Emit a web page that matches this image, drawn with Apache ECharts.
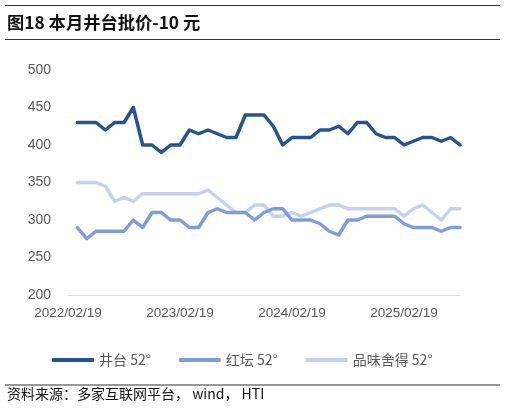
<!DOCTYPE html>
<html>
<head>
<meta charset="utf-8">
<script src="https://cdn.jsdelivr.net/npm/echarts@6/dist/echarts.min.js"></script>
<style>
html,body{margin:0;padding:0;background:#fff;}
#chart{width:506px;height:408px;}
</style>
</head>
<body>
<div id="chart"></div>
<script>
var dates = [
  '2022/02/19','2022/03/19','2022/04/19','2022/05/19','2022/06/19','2022/07/19','2022/08/19','2022/09/19','2022/10/19','2022/11/19','2022/12/19','2023/01/19',
  '2023/02/19','2023/03/19','2023/04/19','2023/05/19','2023/06/19','2023/07/19','2023/08/19','2023/09/19','2023/10/19','2023/11/19','2023/12/19','2024/01/19',
  '2024/02/19','2024/03/19','2024/04/19','2024/05/19','2024/06/19','2024/07/19','2024/08/19','2024/09/19','2024/10/19','2024/11/19','2024/12/19','2025/01/19',
  '2025/02/19','2025/03/19','2025/04/19','2025/05/19','2025/06/19','2025/07/19','2025/08/19'
];
var seriesNames = ['井台 52°','红坛 52°','品味舍得 52°'];
var jingtai = [430,430,430,420,430,430,450,400,400,390,400,400,420,415,420,415,410,410,440,440,440,425,400,410,410,410,420,420,425,415,430,430,415,410,410,400,405,410,410,405,410,400];
var hongtan = [290,275,285,285,285,285,300,290,310,310,300,300,290,290,310,315,310,310,310,300,310,315,315,300,300,300,295,285,280,300,300,305,305,305,305,295,290,290,290,285,290,290];
var pinwei = [350,350,350,345,325,330,325,335,335,335,335,335,335,335,340,330,320,310,310,320,320,305,305,310,305,310,315,320,320,315,315,315,315,315,315,305,315,320,310,300,315,315];
var yTicks = {min:200, max:500, step:50};
var colors = ['#27548E','#7F9ED6','#C4D3EC'];

var pointDates = dates.slice(1);
function pairs(vals){ return vals.map(function(v,i){ return [pointDates[i], v]; }); }
var valueSets = [jingtai, hongtan, pinwei];

var chart = echarts.init(document.getElementById('chart'));
chart.setOption({
  animation:false,
  backgroundColor:'#fff',
  grid:{left:68, right:46, top:70, bottom:113, containLabel:false},
  xAxis:{
    type:'category', data:dates, boundaryGap:false,
    axisLine:{show:true, lineStyle:{color:'#D9D9D9', width:1}},
    axisTick:{show:false},
    axisLabel:{interval:11, color:'#595959', fontSize:13.5, margin:11, fontFamily:'Liberation Sans, Arial, sans-serif'},
    splitLine:{show:false}
  },
  yAxis:{
    type:'value', min:yTicks.min, max:yTicks.max, interval:yTicks.step,
    axisLine:{show:false}, axisTick:{show:false}, splitLine:{show:false},
    axisLabel:{color:'#595959', fontSize:14, margin:17, fontFamily:'Liberation Sans, Arial, sans-serif'}
  },
  legend:{
    left:47, top:348, itemWidth:42, itemHeight:4, itemGap:28, icon:'roundRect',
    textStyle:{color:'#595959', fontSize:14, fontFamily:'Noto Sans CJK SC, sans-serif'},
    data:seriesNames
  },
  series: seriesNames.map(function(n,k){
    return {
      name:n, type:'line', data:pairs(valueSets[k]), showSymbol:false, symbol:'none',
      lineStyle:{color:colors[k], width:3.5, cap:'round', join:'round'},
      itemStyle:{color:colors[k]}, z:3-k
    };
  }),
  graphic:[
    {type:'line', shape:{x1:5,y1:5.5,x2:500,y2:5.5}, style:{stroke:'#333', lineWidth:1.2}},
    {type:'text', left:7, top:14, style:{text:'图18 本月井台批价-10 元', fill:'#111', font:'bold 17.3px "Noto Sans CJK SC", sans-serif'}},
    {type:'line', shape:{x1:5,y1:39.5,x2:500,y2:39.5}, style:{stroke:'#333', lineWidth:1.2}},
    {type:'line', shape:{x1:5,y1:385,x2:500,y2:385}, style:{stroke:'#333', lineWidth:1.2}},
    {type:'text', left:7, top:387, style:{text:'资料来源：多家互联网平台， wind， HTI', fill:'#111', font:'14px "Noto Sans CJK SC", sans-serif'}}
  ]
});
</script>
</body>
</html>
